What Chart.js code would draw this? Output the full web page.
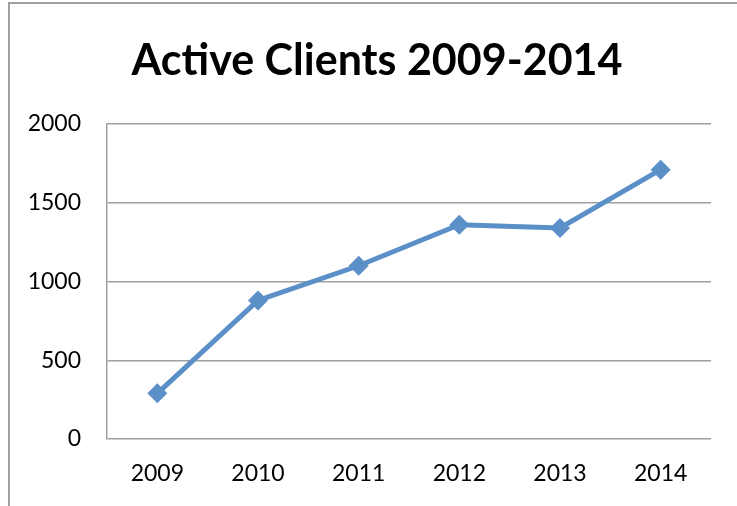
<!DOCTYPE html>
<html>
<head>
<meta charset="utf-8">
<script src="https://cdn.jsdelivr.net/npm/chart.js@4"></script>
<style>
    html, body { margin: 0; padding: 0; background: #ffffff; }
    #wrap { width: 737px; height: 506px; position: relative; }
</style>
</head>
<body>
<div id="wrap"><canvas id="ClientsChart"></canvas></div>
<script>
// Chart data
const chartTitle = 'Active Clients 2009-2014';
const years = ['2009', '2010', '2011', '2012', '2013', '2014'];
const activeClients = [290, 880, 1100, 1360, 1340, 1710];
const yTicks = [0, 500, 1000, 1500, 2000];

const lineBlue = '#5a8fc8';
const gridGray = '#a0a0a0';

// Outer frame lines + title (drawn by hand so it can sit off-centre like the original)
const framePlugin = {
    id: 'frame',
    beforeDraw(chart) {
        const ctx = chart.ctx;
        ctx.save();
        ctx.fillStyle = '#ffffff';
        ctx.fillRect(0, 0, chart.width, chart.height);
        ctx.strokeStyle = gridGray;
        ctx.lineWidth = 2;
        ctx.beginPath();
        ctx.moveTo(9, chart.height);
        ctx.lineTo(9, 3);
        ctx.lineTo(chart.width, 3);
        ctx.stroke();

        // title
        ctx.fillStyle = '#000000';
        ctx.font = 'bold 43px Lato';
        ctx.textAlign = 'center';
        ctx.textBaseline = 'alphabetic';
        ctx.fillText(chartTitle, 377, 75);
        ctx.restore();
    }
};

const canvas = document.getElementById('ClientsChart');
const ctx = canvas.getContext('2d');

new Chart(ctx, {
    type: 'line',
    data: {
        labels: years,
        datasets: [{
            label: 'Active Clients',
            data: activeClients,
            borderColor: lineBlue,
            backgroundColor: lineBlue,
            borderWidth: 5,
            pointStyle: 'rectRot',
            pointRadius: 10,
            pointBorderWidth: 0,
            pointBackgroundColor: lineBlue,
            tension: 0,
            fill: false
        }]
    },
    options: {
        responsive: true,
        maintainAspectRatio: false,
        animation: false,
        layout: {
            padding: { left: 0, right: 26, top: 124, bottom: 0 }
        },
        plugins: {
            legend: { display: false },
            tooltip: { enabled: false },
            title: { display: false }
        },
        scales: {
            x: {
                offset: true,
                grid: { display: false, drawTicks: false },
                border: { display: false },
                ticks: {
                    color: '#000000',
                    padding: 21,
                    font: { family: 'Lato', size: 23 }
                },
                afterFit(scale) { scale.height = 67; }
            },
            y: {
                min: 0,
                max: 2000,
                afterBuildTicks(scale) {
                    scale.ticks = yTicks.map(v => ({ value: v }));
                },
                grid: { color: gridGray, lineWidth: 1.5, drawTicks: false },
                border: { display: true, color: gridGray, width: 1.5 },
                ticks: {
                    color: '#000000',
                    padding: 26,
                    font: { family: 'Lato', size: 23 },
                    callback: value => String(value)
                },
                afterFit(scale) { scale.width = 107; }
            }
        }
    },
    plugins: [framePlugin]
});
</script>
</body>
</html>
